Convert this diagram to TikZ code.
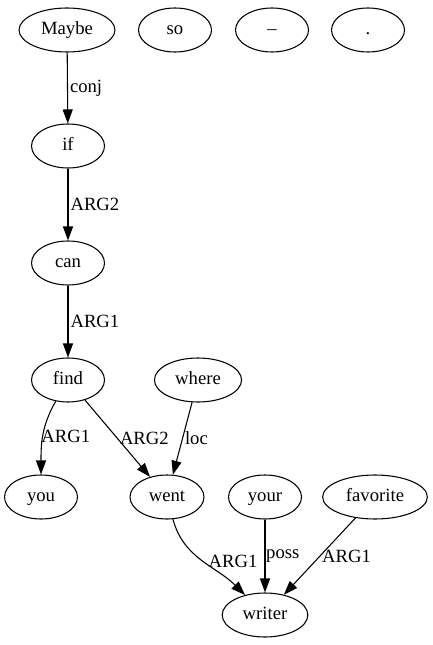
\documentclass[tikz,border=0pt]{standalone}
\usepackage{fontspec}
\setmainfont{Liberation Serif}
\usetikzlibrary{arrows.meta,shapes.geometric}
\tikzset{
  word/.style={draw, ellipse, line width=0.8pt, minimum width=54.75pt,
    minimum height=33pt, inner xsep=6pt, text height=9.5pt, text depth=3pt,
    font=\fontsize{14}{16}\selectfont},
  rel/.style={line width=0.8pt, -{Triangle[length=10.5pt,width=7.5pt]}},
  lbl/.style={midway, right, inner sep=1.5pt, font=\fontsize{14}{16}\selectfont}
}
\begin{document}
\begin{tikzpicture}[x=0.75pt,y=0.75pt]
\useasboundingbox (0,0) rectangle (432,-645);

\foreach \n/\x/\y/\t in {maybe/67/30/Maybe, so/175/30/so, dash/272/30/–, dot/368/30/.,
  if/68/146/if, can/68/263/can, find/68/380/find, where/198/380/where,
  you/41/497/you, went/167/497/went, your/265/497/your, favorite/375/497/favorite,
  writer/265/615/writer} {
  \node[word] (\n) at (\x,-\y) {\t};
}

\draw[rel] (maybe) -- node[lbl]{conj} (if);
\draw[rel] (if) -- node[lbl]{ARG2} (can);
\draw[rel] (can) -- node[lbl]{ARG1} (find);
\draw[rel] (find) to[out=-120,in=90] node[lbl, xshift=-3pt]{ARG1} (you);
\draw[rel] (find) -- node[lbl]{ARG2} (went);
\draw[rel] (where) -- node[lbl]{loc} (went);
\draw[rel] (went) to[out=-75,in=135] node[lbl, xshift=3pt]{ARG1} (writer);
\draw[rel] (your) -- node[lbl, inner sep=0.5pt]{poss} (writer);
\draw[rel] (favorite) -- node[lbl]{ARG1} (writer);
\end{tikzpicture}
\end{document}
